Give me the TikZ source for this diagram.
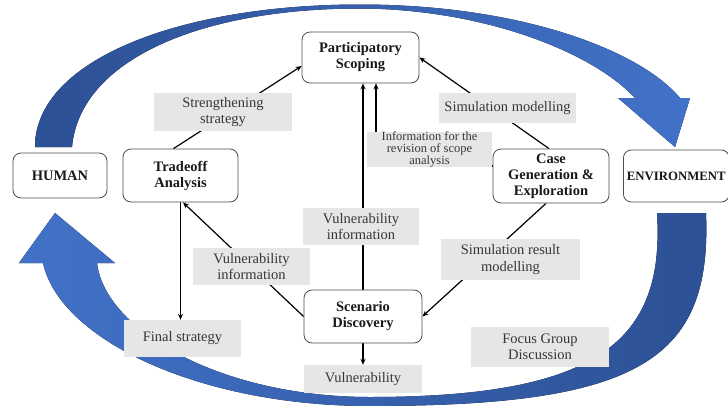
\documentclass[tikz,border=0pt]{standalone}
\usepackage{fontspec}
\setmainfont{Liberation Serif}
\usetikzlibrary{arrows.meta,calc}
\pgfdeclarelayer{bg}
\pgfdeclarelayer{lines}
\pgfsetlayers{bg,lines,main}
\definecolor{bandA}{RGB}{44,80,148}
\definecolor{bandB}{RGB}{66,114,200}
\definecolor{lblfill}{RGB}{230,230,230}
\definecolor{lbltext}{RGB}{55,55,55}
\begin{document}
\begin{tikzpicture}[x=1pt,y=-1pt,
  box/.style={draw=black!70, line width=0.8pt, rounded corners=8pt, fill=white, align=center,
    font=\fontsize{14.5}{16}\selectfont\bfseries, text=black!90, inner sep=0pt},
  lbl/.style={fill=lblfill, text=lbltext, align=center, font=\fontsize{14.5}{16.5}\selectfont, inner sep=0pt},
  conn/.style={line width=1.2pt, -{Stealth[length=6pt,width=5pt]}}]
\useasboundingbox (0,0) rectangle (728,405);
\clip (0,0) rectangle (728,405);

% nodes
\node[box, minimum width=94pt, minimum height=45pt] (human) at (60,175.5) {HUMAN};
\node[box, minimum width=115pt, minimum height=53pt] (trade) at (180.5,175.5) {Tradeoff\\Analysis};
\node[box, minimum width=117pt, minimum height=51pt] (part) at (360.5,57.5) {Participatory\\Scoping};
\node[box, minimum width=116pt, minimum height=54pt] (case) at (551,176) {Case\\Generation \&\\Exploration};
\node[box, minimum height=52pt, anchor=west, inner xsep=3.5pt, font=\fontsize{12.8}{15}\selectfont\bfseries] (env) at (623,176) {ENVIRONMENT};
\node[box, minimum width=118pt, minimum height=53pt] (scen) at (363,316.5) {Scenario\\Discovery};

\node[lbl, minimum width=138pt, minimum height=38pt] (strength) at (223,112) {Strengthening\\strategy};
\node[lbl, minimum width=137pt, minimum height=30pt] (simmod) at (507.5,108) {Simulation modelling};
\node[lbl, minimum width=125pt, minimum height=35pt, font=\fontsize{12.5}{11.8}\selectfont] (inforev) at (429.5,149.5) {Information for the\\revision of scope\\analysis};
\node[lbl, minimum width=116pt, minimum height=37pt] (vulmid) at (361,226.5) {Vulnerability\\information};
\node[lbl, minimum width=117pt, minimum height=37pt] (vulleft) at (251.5,266.5) {Vulnerability\\information};
\node[lbl, minimum width=139pt, minimum height=41pt] (simres) at (510.5,259.5) {Simulation result\\modelling};
\node[lbl, minimum width=117pt, minimum height=37pt] (final) at (182.5,338.5) {Final strategy};
\node[lbl, minimum width=138pt, minimum height=40pt] (focus) at (540,347) {Focus Group\\Discussion};
\node[lbl, minimum width=118pt, minimum height=28pt] (vuln) at (363,379) {Vulnerability};

% blue cycle arrows
\begin{pgfonlayer}{bg}
\fill[left color=bandA, right color=bandB]
  (35,147) .. controls (35,60) and (180,4.5) .. (360,4.5)
  .. controls (520,4.5) and (640,50) .. (680,98)
  -- (690,98) -- (675,147) -- (618,98) -- (635,98)
  .. controls (590,50) and (480,9) .. (360,8.5)
  .. controls (200,8.5) and (80,60) .. (72,147) -- cycle;
\fill[left color=bandB, right color=bandA]
  (657,213) -- (706,213) .. controls (712,360) and (640,406) .. (370,406)
  .. controls (200,406) and (60,340) .. (43,263)
  -- (19,263) -- (55,213) -- (115,263) -- (97,263)
  .. controls (105,330) and (220,397) .. (370,397)
  .. controls (600,397) and (665,340) .. (657,213) -- cycle;
\end{pgfonlayer}

% connectors
\begin{pgfonlayer}{lines}
\draw[conn] ($(trade.north)+(-7,0)$) -- ($(part.west)+(0,8.5)$);
\draw[conn] ($(case.north)+(-2,0)$) -- (part.east);
\draw[conn] ($(case.west)+(0,-10)$) -| ($(part.south)+(15.5,0)$);
\draw[conn] (scen.north) -- (scen.north |- part.south);
\draw[conn] (scen.west) -- ($(trade.south)+(2.5,0)$);
\draw[conn] (trade.south) -- (trade.south |- final.north);
\draw[conn] ($(case.south)+(-5,0)$) -- (scen.east);
\draw[conn] (scen.south) -- (vuln.north);
\end{pgfonlayer}
\end{tikzpicture}
\end{document}
